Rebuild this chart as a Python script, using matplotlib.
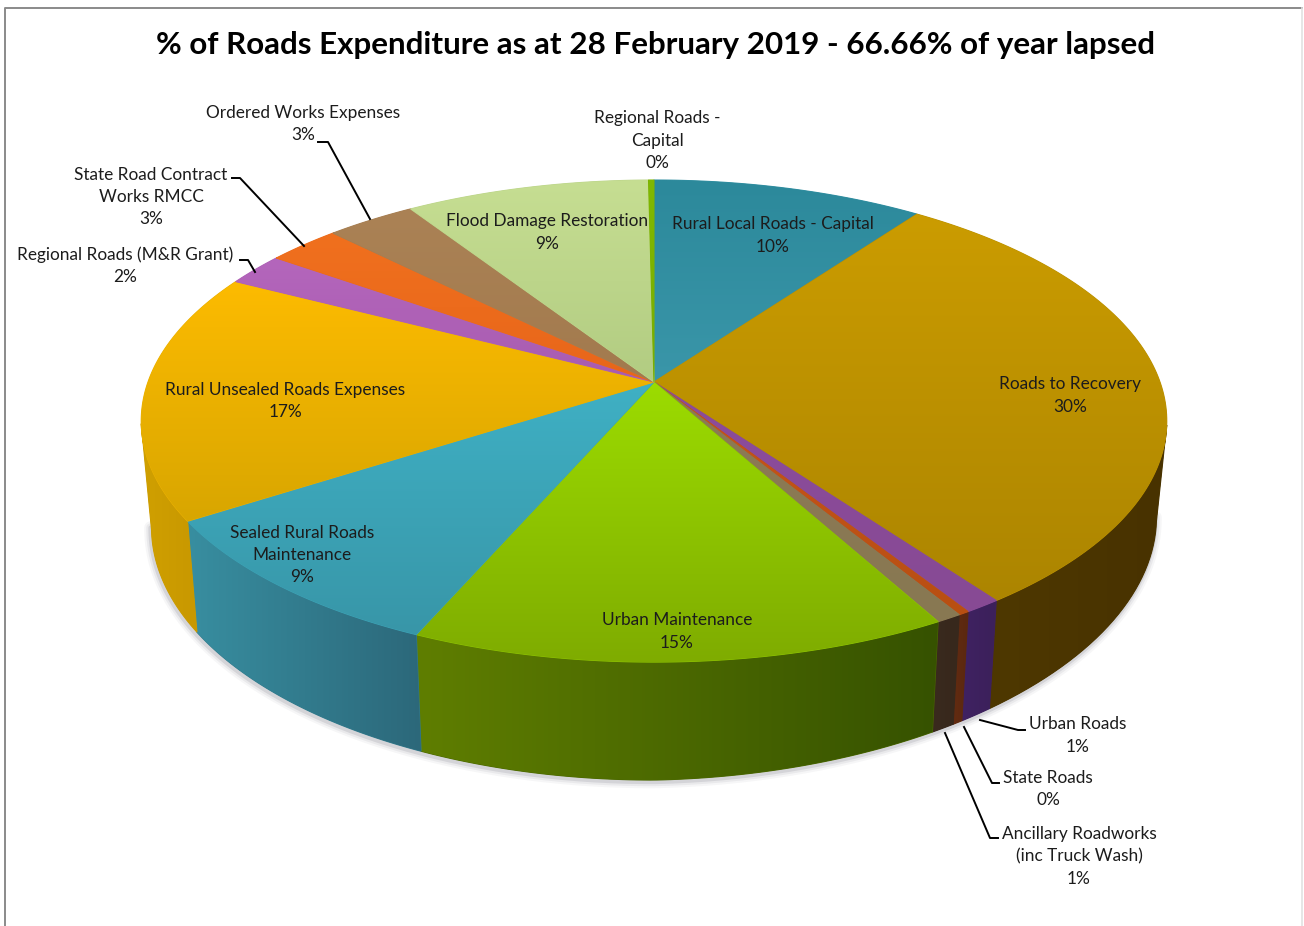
import numpy as np
import matplotlib
matplotlib.use('Agg')
import matplotlib.pyplot as plt
from matplotlib.colors import to_rgb
from matplotlib.patches import Polygon

plt.rcParams['font.family'] = ['Lato', 'DejaVu Sans']

# Slices clockwise from twelve o'clock (percent)
labels = ['Rural Local Roads - Capital', 'Roads to Recovery', 'Urban Roads', 'State Roads',
          'Ancillary Roadworks\n(inc Truck Wash)', 'Urban Maintenance',
          'Sealed Rural Roads\nMaintenance', 'Rural Unsealed Roads Expenses',
          'Regional Roads (M&R Grant)', 'State Road Contract\nWorks RMCC',
          'Ordered Works Expenses', 'Flood Damage Restoration', 'Regional Roads -\nCapital']
values = [10, 30, 1, 0.3, 0.7, 14.55, 9.35, 16.7, 2.2, 2.7, 3.3, 9.0, 0.2]

# top colour far edge, top colour near edge, side colour left, side colour right
top_far = ['#2c899b', '#cb9c00', '#8c4c9c', '#c8551a', '#8d7a55', '#9cdc00', '#3fb0c4',
           '#fdbb00', '#b466bc', '#f0701e', '#ab8255', '#c6de92', '#80b800']
top_near = ['#3a96a9', '#ac8500', '#874a94', '#b84f12', '#887852', '#7fac00', '#3896a8',
            '#d8a600', '#a85cb0', '#e8661a', '#a27a4e', '#b2cc82', '#78ac00']
side_left = ['#2c899b', '#4e3800', '#3f2262', '#632b10', '#3a2a1e', '#5f7e00', '#388ea0',
             '#d0a000', '#b466bc', '#f0701e', '#ab8255', '#c6de92', '#80b800']
side_right = ['#2c899b', '#483200', '#3c205a', '#5a2810', '#37281c', '#365200', '#2c687a',
              '#c89800', '#b466bc', '#f0701e', '#ab8255', '#c6de92', '#80b800']

title = '% of Roads Expenditure as at 28 February 2019 - 66.66% of year lapsed'

# label centre (x, y of middle of the block) in picture pixels
label_pos = [(773, 235.5), (1070, 395.5), (1078, 735.5), (1048, 789), (1079, 856.5), (677, 631.5),
             (302, 555), (285, 401), (125, 265.5), (151, 197), (303, 124), (547, 232.5), (657, 141)]

# leader lines, only for the labels outside the pie
leaders = {2: [(1025, 730), (1018, 730), (980, 720)],
           3: [(999, 783), (992, 783), (964, 727)],
           4: [(998, 838), (990, 838), (945, 733)],
           8: [(240, 260), (248, 260), (255, 272)],
           9: [(232, 178), (240, 178), (304, 246)],
           10: [(318, 142), (328, 142), (370, 219)]}

# perspective circle fitted to the picture
cx, cy = 654, 382
A, B, p = 506, 234.7, 0.162


def top_xy(theta):
  u, v = np.sin(theta), np.cos(theta)
  den = 1 + p * v
  return cx + A * u / den, cy - B * v / den


def bottom_xy(theta):
  x, y = top_xy(theta)
  yb = 780 + 1.05 * (y - 662) - 0.02 * np.maximum(x - cx, 0)
  return cx + 0.98 * (x - cx), yb


def gradient(ax, pts, c0, c1, horizontal=False, zorder=2):
  # flat patch underneath hides the seams between neighbours
  c0, c1 = np.array(to_rgb(c0)), np.array(to_rgb(c1))
  ax.add_patch(Polygon(pts, closed=True, facecolor=(c0 + c1) / 2, edgecolor=(c0 + c1) / 2,
                       linewidth=0.8, zorder=zorder))
  t = np.linspace(0, 1, 128)[:, None]
  img = c0[None, :] * (1 - t) + c1[None, :] * t
  img = img[None, :, :] if horizontal else img[:, None, :]
  x0, y0 = pts.min(axis=0)
  x1, y1 = pts.max(axis=0)
  im = ax.imshow(img, extent=(x0, x1, y1, y0), aspect='auto', interpolation='bilinear', zorder=zorder)
  clip = Polygon(pts, closed=True, transform=ax.transData)
  im.set_clip_path(clip)


fig = plt.figure(figsize=(13.04, 9.26), dpi=100)
ax = fig.add_axes([0, 0, 1, 1])
ax.axis('off')

# soft shadow under the pie
ring = np.linspace(np.pi * 0.55, np.pi * 1.45, 300)
bx, by = bottom_xy(ring)
for width, alpha in [(9, 0.05), (6, 0.08), (3, 0.14)]:
  ax.plot(bx - 1, by + 2, color='#555566', linewidth=width, alpha=alpha, zorder=1, solid_capstyle='round')

edges = np.cumsum([0] + values) / np.sum(values) * 2 * np.pi

# sides first, the tops cover whatever sticks out behind
for i in range(len(values)):
  th = np.linspace(edges[i], edges[i + 1], 80)
  th = th[np.cos(th) < -p]
  if len(th) < 2:
    continue
  tx, ty = top_xy(th)
  bx, by = bottom_xy(th)
  pts = np.column_stack([np.r_[tx, bx[::-1]], np.r_[ty, by[::-1]]])
  gradient(ax, pts, side_left[i], side_right[i], horizontal=True, zorder=2)

for i in range(len(values)):
  th = np.linspace(edges[i], edges[i + 1], 120)
  tx, ty = top_xy(th)
  pts = np.column_stack([np.r_[cx, tx], np.r_[cy, ty]])
  gradient(ax, pts, top_far[i], top_near[i], zorder=3)

for i, lab in enumerate(labels):
  x, y = label_pos[i]
  ax.text(x, y, '%s\n%.0f%%' % (lab, values[i]), ha='center', va='center', fontsize=12.4,
          linespacing=1.5, color='#1c1c1c', zorder=5)

for pts in leaders.values():
  xs, ys = zip(*pts)
  ax.plot(xs, ys, color='black', linewidth=1.4, zorder=4)

ax.text(655, 45, title, ha='center', va='center', fontsize=22.6, fontweight='bold', color='black', zorder=5)

# chart frame
ax.plot([4.5, 4.5, 1302], [926, 7.5, 7.5], color='#8a8a8a', linewidth=1.4, zorder=5)
ax.plot([1302, 1302], [7.5, 926], color='#e2e2e2', linewidth=1.2, zorder=5)

ax.set_xlim(0, 1304)
ax.set_ylim(926, 0)
fig.savefig('out.png', dpi=100)
